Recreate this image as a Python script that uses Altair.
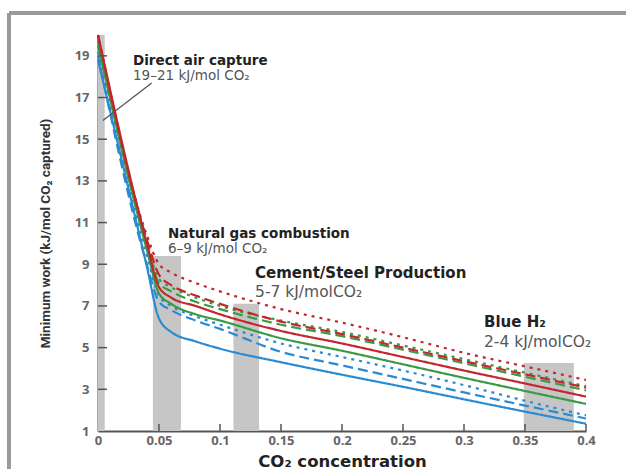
import altair as alt
import pandas as pd

# ---------------- data ----------------
x_vals = [0, 0.04, 0.05, 0.06, 0.08, 0.1, 0.15, 0.2, 0.25, 0.3, 0.35, 0.4]

red_dotted   = [20.0, 10.4, 9.0, 8.6, 8.1, 7.7, 6.85, 6.2, 5.5, 4.75, 4.1, 3.45]
red_dashed   = [20.0, 10.2, 8.5, 8.0, 7.5, 7.1, 6.25, 5.65, 5.0, 4.35, 3.72, 3.08]
red_solid    = [20.0, 10.0, 7.9, 7.4, 7.0, 6.6, 5.8, 5.2, 4.55, 3.9, 3.28, 2.65]
green_dotted = [19.8, 10.0, 8.3, 7.9, 7.4, 7.0, 6.3, 5.75, 5.1, 4.45, 3.8, 3.15]
green_dashed = [19.7, 9.9, 8.1, 7.7, 7.2, 6.85, 6.1, 5.55, 4.9, 4.25, 3.6, 2.95]
green_solid  = [19.5, 9.7, 7.6, 7.1, 6.6, 6.3, 5.45, 4.85, 4.2, 3.55, 2.92, 2.3]
blue_dotted  = [19.2, 9.4, 7.5, 7.0, 6.5, 6.1, 5.2, 4.55, 3.9, 3.2, 2.45, 1.75]
blue_dashed  = [19.0, 9.0, 7.2, 6.8, 6.3, 5.9, 4.8, 4.15, 3.5, 2.85, 2.22, 1.6]
blue_solid   = [18.8, 8.9, 6.4, 5.75, 5.3, 4.95, 4.3, 3.7, 3.12, 2.52, 1.93, 1.35]

series_names = ["blue_solid", "blue_dashed", "blue_dotted",
                "green_solid", "green_dashed", "green_dotted",
                "red_solid", "red_dashed", "red_dotted"]
series_colors = ["blue", "blue", "blue", "green", "green", "green", "red", "red", "red"]
series_styles = ["solid", "dashed", "dotted"] * 3
series_values = [blue_solid, blue_dashed, blue_dotted,
                 green_solid, green_dashed, green_dotted,
                 red_solid, red_dashed, red_dotted]

# grey source bars
bar_names = ["Direct air capture", "Natural gas", "Cement/Steel", "Blue H2"]
bar_x0 = [0.0, 0.045, 0.111, 0.349]
bar_x1 = [0.0055, 0.068, 0.132, 0.390]
bar_top = [20.0, 9.4, 7.1, 4.26]
bar_bottom = [1, 1, 1, 1]

# annotations
head_text = ["Direct air capture", "Natural gas combustion", "Cement/Steel Production", "Blue H₂"]
head_x = [0.0287, 0.0574, 0.1287, 0.3164]
head_y = [18.76, 10.46, 8.59, 6.23]
head_size = [13.5, 13.5, 15, 15]
sub_text = ["19–21 kJ/mol CO₂", "6–9 kJ/mol CO₂", "5-7 kJ/molCO₂", "2-4 kJ/molCO₂"]
sub_y = [18.04, 9.74, 7.67, 5.27]
sub_size = [13.5, 13.5, 15.5, 15.5]

leader_x = [0.044]
leader_y = [17.7]
leader_x2 = [0.004]
leader_y2 = [15.9]

x_ticks = [0, 0.05, 0.1, 0.15, 0.2, 0.25, 0.3, 0.35, 0.4]
y_ticks = [1, 3, 5, 7, 9, 11, 13, 15, 17, 19]

# ---------------- tables ----------------
rows = []
for name, col, sty, ys in zip(series_names, series_colors, series_styles, series_values):
    for i, (xv, yv) in enumerate(zip(x_vals, ys)):
        rows.append({"x": xv, "y": yv, "series": name, "col": col, "style": sty, "order": i})
lines_df = pd.DataFrame(rows)

bars_df = pd.DataFrame({"name": bar_names, "x0": bar_x0, "x1": bar_x1,
                        "top": bar_top, "bottom": bar_bottom})
head_df = pd.DataFrame({"t": head_text, "x": head_x, "y": head_y, "s": head_size})
sub_df = pd.DataFrame({"t": sub_text, "x": head_x, "y": sub_y, "s": sub_size})
leader_df = pd.DataFrame({"x": leader_x, "y": leader_y, "x2": leader_x2, "y2": leader_y2})
xt_df = pd.DataFrame({"v": x_ticks[1:]})
yt_df = pd.DataFrame({"v": y_ticks[1:]})

W, H = 488, 396
LABEL_FONT = "Open Sans"
ANN_FONT = "DejaVu Sans"
COND_FONT = "Roboto"

xscale = alt.Scale(domain=[0, 0.4], nice=False, zero=False)
yscale = alt.Scale(domain=[1, 20], nice=False, zero=False)

xaxis = alt.Axis(values=x_ticks, format="~g", grid=False, ticks=False, tickSize=0,
                 labelPadding=3, labelFont=LABEL_FONT, labelFontSize=13,
                 labelFontWeight="bold", labelColor="#666666",
                 domainColor="#555555", domainWidth=2,
                 title="CO₂ concentration", titleFont=ANN_FONT, titleFontSize=16.5,
                 titleFontWeight="bold", titleColor="#222222",
                 titleY=30, titleBaseline="middle", labelFlush=False)
yaxis = alt.Axis(values=y_ticks, grid=False, ticks=False, tickSize=0,
                 labelPadding=9, labelFont=LABEL_FONT, labelFontSize=13,
                 labelFontWeight="bold", labelColor="#666666",
                 domainColor="#555555", domainWidth=2,
                 title="Minimum work (kJ/mol CO₂ captured)", titleFont=COND_FONT,
                 titleFontSize=13.5, titleFontWeight="bold", titleColor="#333333",
                 titleAngle=270, titleX=-53, titleY=H / 2, titleAlign="center",
                 titleBaseline="middle", labelFlush=False)

base_x = alt.X("x:Q", scale=xscale, axis=xaxis)
base_y = alt.Y("y:Q", scale=yscale, axis=yaxis)

bars = alt.Chart(bars_df).mark_rect(color="#c6c6c6").encode(
    x=alt.X("x0:Q", scale=xscale, axis=xaxis),
    x2="x1:Q",
    y=alt.Y("bottom:Q", scale=yscale, axis=yaxis),
    y2="top:Q",
)

lines = alt.Chart(lines_df).mark_line(strokeWidth=2.2, interpolate="monotone").encode(
    x=base_x,
    y=base_y,
    detail="series:N",
    order="order:Q",
    color=alt.Color("col:N", scale=alt.Scale(domain=["red", "green", "blue"],
                                             range=["#c1272d", "#3a9a45", "#2b8bd2"]),
                    legend=None),
    strokeDash=alt.StrokeDash("style:N",
                              scale=alt.Scale(domain=["solid", "dashed", "dotted"],
                                              range=[[1, 0], [10, 5], [3, 5]]),
                              legend=None),
)

leader = alt.Chart(leader_df).mark_rule(color="#555555", strokeWidth=1.3).encode(
    x=alt.X("x:Q", scale=xscale), y=alt.Y("y:Q", scale=yscale), x2="x2:Q", y2="y2:Q"
)

heads = alt.Chart(head_df).mark_text(align="left", baseline="middle", font=ANN_FONT,
                                     fontWeight="bold", color="#222222").encode(
    x=alt.X("x:Q", scale=xscale), y=alt.Y("y:Q", scale=yscale), text="t:N",
    size=alt.Size("s:Q", scale=None, legend=None),
)
subs = alt.Chart(sub_df).mark_text(align="left", baseline="middle", font=ANN_FONT,
                                   color="#555555").encode(
    x=alt.X("x:Q", scale=xscale), y=alt.Y("y:Q", scale=yscale), text="t:N",
    size=alt.Size("s:Q", scale=None, legend=None),
)

xticks = alt.Chart(xt_df).mark_rule(color="#555555", strokeWidth=1.5).encode(
    x=alt.X("v:Q", scale=xscale), y=alt.value(H), y2=alt.value(H - 7)
)
yticks = alt.Chart(yt_df).mark_rule(color="#555555", strokeWidth=1.5).encode(
    y=alt.Y("v:Q", scale=yscale), x=alt.value(0), x2=alt.value(9)
)

frame_top = alt.Chart(xt_df).mark_rule(color="#9a9a9a", strokeWidth=3).encode(
    x=alt.value(-89), x2=alt.value(700), y=alt.value(-22)
)
frame_left = alt.Chart(xt_df).mark_rule(color="#9a9a9a", strokeWidth=3).encode(
    x=alt.value(-89), y=alt.value(-22), y2=alt.value(600)
)

chart = alt.layer(bars, lines, leader, heads, subs, xticks, yticks, frame_top, frame_left).properties(
    width=W, height=H,
    autosize=alt.AutoSizeParams(type="none"),
    padding={"left": 98, "top": 35, "right": 40, "bottom": 38},
    background="white",
).configure_view(stroke=None)

chart.save("out.html", embed_options={"renderer": "svg", "actions": False})
